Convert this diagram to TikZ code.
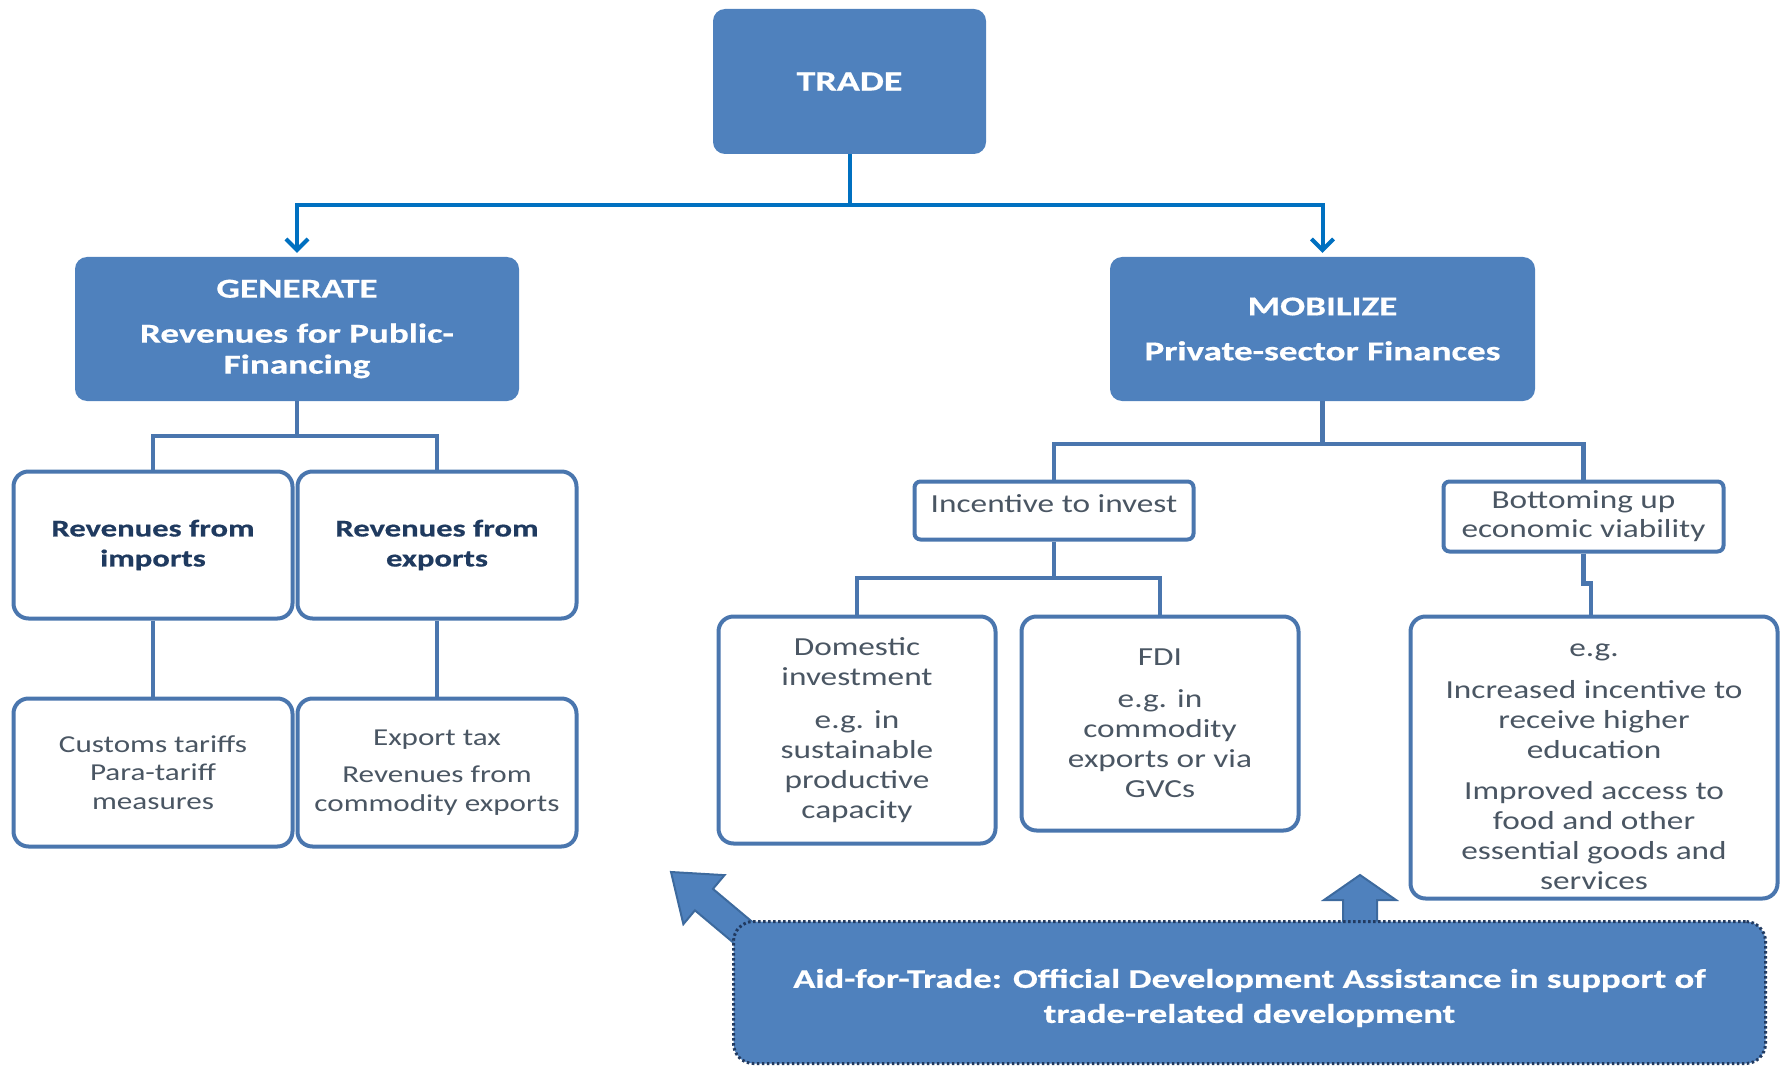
\documentclass[tikz,border=0pt]{standalone}
\usepackage{fontspec}
\setmainfont{Carlito}
\newfontfamily\regf{Carlito}[FakeStretch=1.28]
\newfontfamily\boldf{Carlito}[FakeStretch=1.36,FakeBold=0.6]
\usetikzlibrary{arrows.meta}
\definecolor{boxblue}{HTML}{4F81BD}
\definecolor{topline}{HTML}{0070C0}
\definecolor{edgeblue}{HTML}{4A76AE}
\definecolor{navy}{HTML}{1F3A5F}
\definecolor{slate}{HTML}{4A5663}
\definecolor{dotnavy}{HTML}{213A60}
\definecolor{arrowedge}{HTML}{3D6A9E}
\begin{document}
\begin{tikzpicture}[x=1pt,y=-1pt,
  bluebox/.style={rectangle, rounded corners=12pt, fill=boxblue, draw=none, inner sep=0pt, align=center, text=white},
  whitebox/.style={rectangle, rounded corners=15pt, fill=white, draw=edgeblue, line width=4pt, inner sep=0pt, align=center},
  boldtxt/.style={font=\boldf\bfseries\fontsize{24}{30}\selectfont, text=navy},
  lefttxt/.style={font=\regf\fontsize{24.3}{28.5}\selectfont, text=slate},
  righttxt/.style={font=\regf\fontsize{26}{30}\selectfont, text=slate},
  topconn/.style={draw=topline, line width=4pt},
  conn/.style={draw=edgeblue, line width=4.5pt},
  blockarr/.style={fill=boxblue, draw=arrowedge, line width=2pt, line join=miter},
  aidbox/.style={rectangle, rounded corners=20pt, fill=boxblue, draw=dotnavy, line width=3pt, dash pattern=on 2.5pt off 2.5pt, inner sep=0pt, align=center, text=white}]
\useasboundingbox (0,0) rectangle (1785,1067);

% top level
\node[bluebox, minimum width=273pt, minimum height=145pt, font=\boldf\bfseries\fontsize{28}{34}\selectfont] (trade) at (849.5,81.5) {TRADE};
\node[bluebox, minimum width=444pt, minimum height=144pt, font=\boldf\bfseries\fontsize{27.3}{31}\selectfont] (gen) at (297,329) {GENERATE\\[14pt]Revenues for Public-\\Financing};
\node[bluebox, minimum width=425pt, minimum height=144pt, font=\boldf\bfseries\fontsize{27.3}{31}\selectfont] (mob) at (1322.5,329) {MOBILIZE\\[14pt]Private-sector Finances};

% left branch
\node[whitebox, boldtxt, minimum width=279pt, minimum height=147pt] (imp) at (153,545) {Revenues from\\imports};
\node[whitebox, boldtxt, minimum width=279pt, minimum height=147pt] (exp) at (437,545) {Revenues from\\exports};
\node[whitebox, lefttxt, minimum width=279pt, minimum height=148pt] (cust) at (153,772.5) {Customs tariffs\\Para-tariff\\measures};
\node[whitebox, lefttxt, minimum width=279pt, minimum height=148pt] (extax) at (437,772.5) {Export tax\\[9pt]Revenues from\\commodity exports};

% right branch
\node[whitebox, righttxt, rounded corners=6pt, minimum width=279pt, minimum height=58pt] (inc) at (1054,510.5) {Incentive to invest\rule[-13pt]{0pt}{13pt}};
\node[whitebox, righttxt, rounded corners=6pt, minimum width=280pt, minimum height=70pt, font=\regf\fontsize{26}{29}\selectfont] (bot) at (1583.5,516.5) {Bottoming up\\economic viability};
\node[whitebox, righttxt, minimum width=277pt, minimum height=227pt] (dom) at (857,730) {Domestic\\investment\\[13pt]e.g. in\\sustainable\\productive\\capacity};
\node[whitebox, righttxt, minimum width=277pt, minimum height=214pt] (fdi) at (1160,723.5) {FDI\\[12pt]e.g. in\\commodity\\exports or via\\GVCs};
\node[whitebox, righttxt, minimum width=367pt, minimum height=282pt] (eg) at (1594,757.5) {\rule{0pt}{31pt}e.g.\\[12pt]Increased incentive to\\receive higher\\education\\[11pt]Improved access to\\food and other\\essential goods and\\services};

% connectors from TRADE
\coordinate (tj) at (849.5,205);
\draw[topconn, -{Straight Barb[length=11pt,width=22pt]}, shorten >=4pt] (trade.south) -- (tj) -| (gen.north);
\draw[topconn, -{Straight Barb[length=11pt,width=22pt]}, shorten >=4pt] (tj) -| (mob.north);

% GENERATE connectors
\coordinate (gj) at (297,436);
\draw[conn] (gen.south) -- (gj);
\draw[conn, line join=miter] (imp.north) |- (gj) -| (exp.north);
\draw[conn] (imp.south) -- (cust.north);
\draw[conn] (exp.south) -- (extax.north);

% MOBILIZE connectors
\coordinate (mj) at (1322.5,444);
\draw[conn] (mob.south) -- (mj);
\draw[conn, line join=miter] (inc.north) |- (mj) -| (bot.north);
\coordinate (ij) at (1054,578);
\draw[conn] (inc.south) -- (ij);
\draw[conn, line join=miter] (dom.north) |- (ij) -| (fdi.north);
\draw[conn, line join=miter] (bot.south) -- ++(0,30) -| ([xshift=-3pt]eg.north);

% block arrows
\begin{scope}[shift={(671,872)}, rotate=140]
  \filldraw[blockarr] (0,0) -- (-43,32) -- (-43,14) -- (-135,14) -- (-135,-14) -- (-43,-14) -- (-43,-32) -- cycle;
\end{scope}
\filldraw[blockarr] (1360,875) -- (1396,900) -- (1377,900) -- (1377,935) -- (1343,935) -- (1343,900) -- (1324,900) -- cycle;

% Aid for trade box
\node[aidbox, minimum width=1032pt, minimum height=142pt, font=\boldf\bfseries\fontsize{27}{35}\selectfont] (aid) at (1249.5,992.5) {\rule{0pt}{30pt}Aid-for-Trade: Official Development Assistance in support of\\trade-related development};
\end{tikzpicture}
\end{document}
